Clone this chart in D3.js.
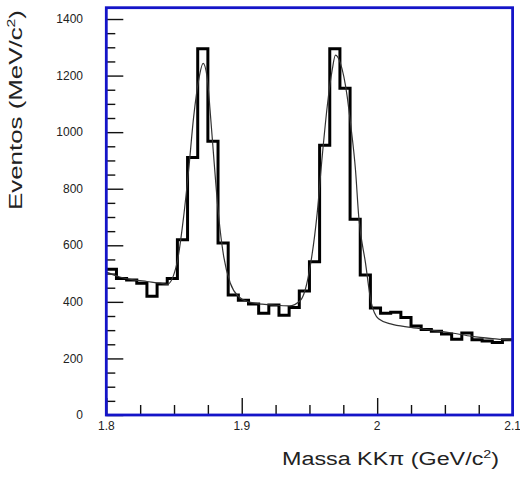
<!DOCTYPE html>
<html>
<head>
<meta charset="utf-8">
<script src="https://cdn.jsdelivr.net/npm/d3@7"></script>
<style>
  html, body { margin: 0; padding: 0; background: #fff; }
  svg { display: block; }
  text { font-family: "Liberation Sans", Arial, sans-serif; fill: #222; }
</style>
</head>
<body>
<svg id="chart" width="520" height="479"></svg>
<script>
// ---- data ----
const binStart = 1.8;
const binWidth = 0.0075;
const counts = [515, 483, 477, 466, 420, 463, 483, 620, 910, 1295,
                968, 608, 424, 406, 392, 360, 389, 353, 380, 438,
                542, 954, 1295, 1155, 692, 495, 378, 360, 363, 345,
                315, 302, 296, 286, 268, 290, 266, 262, 256, 266];

const fitMass  = [1.800, 1.810, 1.820, 1.830, 1.840, 1.8449, 1.8522, 1.8571, 1.8608, 1.8645,
                  1.8682, 1.8715, 1.8744, 1.8768, 1.8793, 1.8830, 1.8867, 1.8916, 1.8978, 1.905,
                  1.915, 1.925, 1.935, 1.9433, 1.9507, 1.9557, 1.9594, 1.9631, 1.9668, 1.9692,
                  1.9729, 1.9779, 1.9803, 1.984, 1.9864, 1.9914, 1.9955, 2.001, 2.010, 2.025,
                  2.040, 2.055, 2.070, 2.085, 2.100];
const fitValue = [505, 488, 478, 472, 466, 462, 537, 701, 866, 1054,
                  1184, 1243, 1196, 1067, 913, 701, 560, 466, 418, 400,
                  392, 388, 386, 405, 530, 713, 913, 1090, 1220, 1272,
                  1243, 1125, 1032, 866, 701, 537, 400, 340, 322, 310,
                  300, 290, 278, 270, 264];

const xTickLabels = [1.8, 1.9, 2, 2.1];
const yTickLabels = [0, 200, 400, 600, 800, 1000, 1200, 1400];
const xMinorStep = 0.025;
const yMinorStep = 50;
const xDomain = [1.8, 2.1];
const yDomain = [0, 1440];

// ---- layout ----
const pLeft = 106.3, pRight = 512.6, pTop = 7.7, pBottom = 415;
const svg = d3.select("#chart");
const x = d3.scaleLinear().domain(xDomain).range([pLeft, pRight]);
const y = d3.scaleLinear().domain(yDomain).range([pBottom, pTop]);

svg.append("defs").append("clipPath").attr("id", "clip")
  .append("rect").attr("x", pLeft).attr("y", pTop)
  .attr("width", pRight - pLeft).attr("height", pBottom - pTop);

// ticks (inside, black)
const xMinor = d3.range(xDomain[0], xDomain[1] + 1e-9, xMinorStep);
const yMinor = d3.range(yDomain[0], yDomain[1] + 1e-9, yMinorStep);
const isMajorX = v => xTickLabels.some(t => Math.abs(t - v) < 1e-6);
const isMajorY = v => yTickLabels.some(t => Math.abs(t - v) < 1e-6);

const xAxis = d3.axisBottom(x).tickValues(xMinor).tickSize(0).tickFormat("");
const gx = svg.append("g").attr("transform", `translate(0,${pBottom})`).call(xAxis);
gx.select(".domain").remove();
gx.selectAll(".tick line")
  .attr("y2", d => isMajorX(d) ? -17 : -10)
  .attr("stroke", "#111").attr("stroke-width", 1.4);

const yAxis = d3.axisLeft(y).tickValues(yMinor).tickSize(0).tickFormat("");
const gy = svg.append("g").attr("transform", `translate(${pLeft},0)`).call(yAxis);
gy.select(".domain").remove();
gy.selectAll(".tick line")
  .attr("x2", d => isMajorY(d) ? 17 : 9)
  .attr("stroke", "#111").attr("stroke-width", 1.4);

// tick labels
svg.append("g").selectAll("text").data(xTickLabels).join("text")
  .attr("x", d => x(d)).attr("y", 430)
  .attr("text-anchor", "middle")
  .style("font-size", "12px")
  .text(d => d3.format("")(d));

svg.append("g").selectAll("text").data(yTickLabels).join("text")
  .attr("x", 83).attr("y", d => y(d)).attr("dy", "0.35em")
  .attr("text-anchor", "end")
  .style("font-size", "12px")
  .text(d => d);

// histogram
const edges = counts.map((c, i) => ({ m: binStart + i * binWidth, v: c }));
edges.push({ m: binStart + counts.length * binWidth, v: counts[counts.length - 1] });
svg.append("path")
  .attr("clip-path", "url(#clip)")
  .attr("d", d3.line().x(d => x(d.m)).y(d => y(d.v)).curve(d3.curveStepAfter)(edges))
  .attr("fill", "none").attr("stroke", "#000").attr("stroke-width", 3)
  .attr("stroke-linejoin", "miter");

// fit curve
const fit = fitMass.map((m, i) => ({ m, v: fitValue[i] }));
svg.append("path")
  .attr("clip-path", "url(#clip)")
  .attr("d", d3.line().x(d => x(d.m)).y(d => y(d.v)).curve(d3.curveMonotoneX)(fit))
  .attr("fill", "none").attr("stroke", "#333").attr("stroke-width", 1.2);

// frame
svg.append("rect")
  .attr("x", pLeft).attr("y", pTop)
  .attr("width", pRight - pLeft).attr("height", pBottom - pTop)
  .attr("fill", "none").attr("stroke", "#1414c8").attr("stroke-width", 2.8);

// axis titles
const xt = svg.append("text")
  .attr("x", 282).attr("y", 465)
  .attr("textLength", 217).attr("lengthAdjust", "spacingAndGlyphs")
  .style("font-size", "18px");
xt.append("tspan").text("Massa KKπ (GeV/c");
xt.append("tspan").attr("dy", -7).style("font-size", "11px").text("2");
xt.append("tspan").attr("dy", 7).text(")");

const yt = svg.append("text")
  .attr("transform", "translate(22,210) rotate(-90)")
  .attr("x", 0).attr("y", 0)
  .attr("textLength", 200).attr("lengthAdjust", "spacingAndGlyphs")
  .style("font-size", "18px");
yt.append("tspan").text("Eventos (MeV/c");
yt.append("tspan").attr("dy", -7).style("font-size", "11px").text("2");
yt.append("tspan").attr("dy", 7).text(")");
</script>
</body>
</html>
